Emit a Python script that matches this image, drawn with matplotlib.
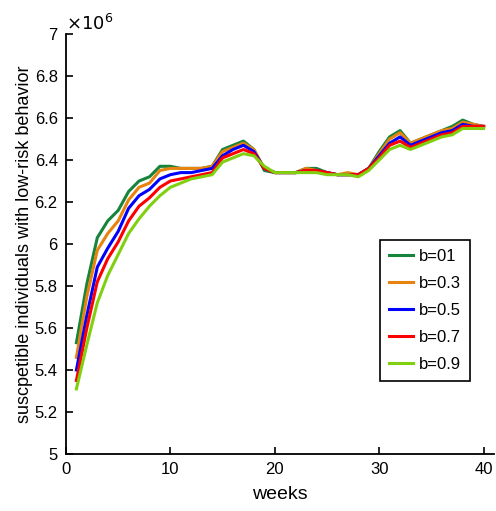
import numpy as np
import matplotlib
matplotlib.use("Agg")
import matplotlib.pyplot as plt
from matplotlib.ticker import FuncFormatter

plt.rcParams['font.family'] = ['Liberation Sans', 'DejaVu Sans']

# ── data (values in millions) ────────────────────────────────────────────────
weeks = np.arange(1, 41)
labels = ["b=01", "b=0.3", "b=0.5", "b=0.7", "b=0.9"]
colors = ["#17843c", "#e8830f", "#0000ff", "#ff0000", "#80d010"]

b01 = [5.53, 5.81, 6.03, 6.11, 6.16, 6.25, 6.30, 6.32, 6.37, 6.37,
       6.36, 6.36, 6.36, 6.37, 6.45, 6.47, 6.49, 6.45, 6.35, 6.34,
       6.34, 6.34, 6.36, 6.36, 6.34, 6.33, 6.33, 6.33, 6.36, 6.44,
       6.51, 6.54, 6.48, 6.50, 6.52, 6.54, 6.56, 6.59, 6.57, 6.56]
b03 = [5.46, 5.75, 5.97, 6.05, 6.11, 6.21, 6.27, 6.29, 6.35, 6.36,
       6.36, 6.36, 6.36, 6.37, 6.44, 6.46, 6.48, 6.45, 6.36, 6.34,
       6.34, 6.34, 6.36, 6.35, 6.34, 6.33, 6.34, 6.33, 6.36, 6.43,
       6.50, 6.53, 6.48, 6.50, 6.52, 6.54, 6.55, 6.58, 6.57, 6.56]
b05 = [5.40, 5.66, 5.89, 5.98, 6.06, 6.17, 6.23, 6.26, 6.31, 6.33,
       6.34, 6.34, 6.35, 6.36, 6.42, 6.45, 6.47, 6.44, 6.36, 6.34,
       6.34, 6.34, 6.35, 6.35, 6.34, 6.33, 6.33, 6.33, 6.36, 6.42,
       6.48, 6.51, 6.47, 6.49, 6.51, 6.53, 6.54, 6.57, 6.56, 6.56]
b07 = [5.35, 5.60, 5.82, 5.93, 6.01, 6.11, 6.18, 6.22, 6.27, 6.30,
       6.31, 6.32, 6.33, 6.34, 6.41, 6.43, 6.45, 6.43, 6.36, 6.34,
       6.34, 6.34, 6.35, 6.35, 6.34, 6.33, 6.33, 6.33, 6.36, 6.41,
       6.47, 6.49, 6.46, 6.48, 6.50, 6.52, 6.53, 6.56, 6.56, 6.56]
b09 = [5.31, 5.52, 5.72, 5.85, 5.95, 6.05, 6.12, 6.18, 6.23, 6.27,
       6.29, 6.31, 6.32, 6.33, 6.39, 6.41, 6.43, 6.42, 6.37, 6.34,
       6.34, 6.34, 6.34, 6.34, 6.33, 6.33, 6.33, 6.32, 6.35, 6.40,
       6.45, 6.47, 6.45, 6.47, 6.49, 6.51, 6.52, 6.55, 6.55, 6.55]
series = [b01, b03, b05, b07, b09]

# ── plot ─────────────────────────────────────────────────────────────────────
fig = plt.figure(figsize=(4.96, 5.11), dpi=100)
ax = fig.add_axes([0.133, 0.1115, 0.863, 0.822])

for vals, lab, col in zip(series, labels, colors):
    ax.plot(weeks, vals, color=col, lw=2.2, label=lab)

ax.set_xlim(0, 41)
ax.set_ylim(5, 7)
ax.set_xticks([0, 10, 20, 30, 40])
ax.set_yticks(np.arange(5, 7.01, 0.2))
ax.yaxis.set_major_formatter(FuncFormatter(lambda v, p: f"{v:g}"))
ax.spines['top'].set_visible(False)
ax.spines['right'].set_visible(False)
for s in ['left', 'bottom']:
    ax.spines[s].set_linewidth(1.3)
ax.tick_params(direction='in', length=5, width=1.2, labelsize=12, pad=6)

ax.set_xlabel("weeks", fontsize=14, labelpad=6)
ax.set_ylabel("suscpetible individuals with low-risk behavior", fontsize=13, labelpad=1)
ax.text(0.0, 1.0, r"$\times10^6$", transform=ax.transAxes, fontsize=13,
        ha='left', va='bottom')

leg = ax.legend(loc='upper left', bbox_to_anchor=(0.734, 0.51), borderaxespad=0,
                fontsize=12, fancybox=False, edgecolor='black', framealpha=1,
                handlelength=1.45, handletextpad=0.3, labelspacing=0.72,
                borderpad=0.55)
leg.get_frame().set_linewidth(1.2)

plt.savefig("out.png", dpi=100)
